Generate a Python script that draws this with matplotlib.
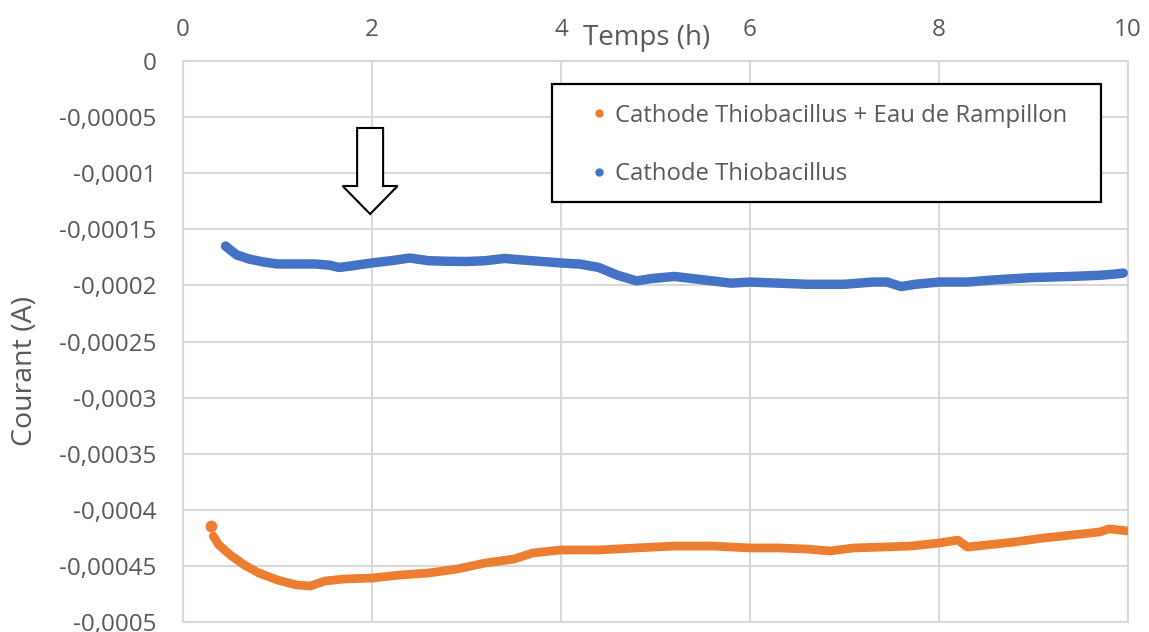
import matplotlib
matplotlib.use("Agg")
import matplotlib.pyplot as plt
from matplotlib.lines import Line2D
from matplotlib.patches import FancyArrow, Rectangle
import matplotlib.transforms as mtransforms

plt.rcParams['font.family'] = ['Open Sans', 'DejaVu Sans']

# ---- data ----
blue_t = [0.45, 0.5, 0.57, 0.7, 0.85, 1.0, 1.2, 1.4, 1.55, 1.65, 1.75, 2.0, 2.2, 2.4,
          2.6, 2.8, 3.0, 3.2, 3.4, 3.6, 3.8, 4.0, 4.2, 4.4, 4.6, 4.8, 4.95, 5.2, 5.4,
          5.6, 5.8, 6.0, 6.3, 6.6, 7.0, 7.3, 7.45, 7.6, 7.75, 8.0, 8.3, 8.6, 9.0,
          9.4, 9.7, 9.85, 9.95]
blue_i = [-0.0001649, -0.0001684, -0.0001729, -0.0001765, -0.0001791, -0.0001809,
          -0.0001809, -0.0001809, -0.000182, -0.000184, -0.000183, -0.00018,
          -0.000178, -0.0001756, -0.000178, -0.0001785, -0.0001787, -0.000178,
          -0.000176, -0.0001774, -0.0001787, -0.00018, -0.000181, -0.000184,
          -0.000191, -0.000196, -0.000194, -0.000192, -0.000194, -0.000196,
          -0.000198, -0.000197, -0.000198, -0.000199, -0.000199, -0.000197,
          -0.000197, -0.000201, -0.000199, -0.000197, -0.000197, -0.000195,
          -0.000193, -0.000192, -0.000191, -0.00019, -0.000189]

orange_t = [0.3, 0.32, 0.38, 0.5, 0.65, 0.8, 1.0, 1.2, 1.35, 1.5, 1.7, 2.0, 2.3, 2.6,
            2.9, 3.2, 3.5, 3.7, 4.0, 4.4, 4.8, 5.2, 5.6, 6.0, 6.3, 6.6, 6.85, 7.1,
            7.4, 7.7, 8.0, 8.2, 8.3, 8.5, 8.8, 9.1, 9.4, 9.7, 9.8, 10.0]
orange_i = [-0.0004145, -0.0004234, -0.0004314, -0.0004403, -0.0004492, -0.0004563,
            -0.0004626, -0.000467, -0.0004679, -0.0004635, -0.0004617, -0.0004608,
            -0.0004581, -0.0004563, -0.0004528, -0.0004474, -0.0004439, -0.0004385,
            -0.0004358, -0.0004358, -0.000434, -0.0004323, -0.0004323, -0.000434,
            -0.000434, -0.000435, -0.0004367, -0.000434, -0.0004332, -0.0004323,
            -0.0004296, -0.000427, -0.0004332, -0.0004314, -0.0004287, -0.0004252,
            -0.0004225, -0.0004198, -0.000417, -0.0004189]

x_ticks = [0, 2, 4, 6, 8, 10]
y_ticks = [0, -0.00005, -0.0001, -0.00015, -0.0002, -0.00025, -0.0003,
           -0.00035, -0.0004, -0.00045, -0.0005]
y_tick_labels = ["0", "-0,00005", "-0,0001", "-0,00015", "-0,0002", "-0,00025",
                 "-0,0003", "-0,00035", "-0,0004", "-0,00045", "-0,0005"]

label_orange = "Cathode Thiobacillus + Eau de Rampillon"
label_blue = "Cathode Thiobacillus"

ORANGE = "#ED7D31"
BLUE = "#4472C4"
TXT = "#595959"
GRID = "#D9D9D9"

W, H = 1149, 632
fig = plt.figure(figsize=(W/100, H/100), dpi=100)
L, R, T, B = 183, 1128, 61, 622
ax = fig.add_axes([L/W, 1-B/H, (R-L)/W, (B-T)/H])

def ax_x(px):
    return (px - L) / (R - L)

def ax_y(py):
    return (B - py) / (B - T)

ax.set_xlim(0, 10)
ax.set_ylim(-0.0005, 0)
ax.xaxis.tick_top()
ax.set_xticks(x_ticks)
ax.set_yticks(y_ticks)
ax.set_yticklabels(y_tick_labels)
ax.tick_params(axis='both', length=0, labelsize=17.5, labelcolor=TXT)
ax.tick_params(axis='x', pad=14)
ax.tick_params(axis='y', pad=19)
ax.grid(True, color=GRID, linewidth=1.5)
ax.set_axisbelow(True)
for s in ax.spines.values():
    s.set_color(GRID)
    s.set_linewidth(1.5)

lw = 6.8
ax.plot(blue_t, blue_i, color=BLUE, lw=lw, solid_capstyle='round',
        solid_joinstyle='round', zorder=3)
ax.plot(orange_t[1:], orange_i[1:], color=ORANGE, lw=lw - 0.5, solid_capstyle='round',
        solid_joinstyle='round', zorder=3)
ax.plot(orange_t[:1], orange_i[:1], 'o', color=ORANGE, ms=7.5, zorder=3)

# hollow arrow annotation
arrow = FancyArrow(1.98, -0.0000597, 0, -0.0000767, width=0.275, head_width=0.582,
                   head_length=0.000025, length_includes_head=True,
                   facecolor='white', edgecolor='black', linewidth=1.5, zorder=4)
ax.add_patch(arrow)

# axis titles
trans = mtransforms.blended_transform_factory(ax.transData, ax.transAxes)
ax.text(4.91, ax_y(38), "Temps (h)", transform=trans, ha='center', va='center',
        fontsize=20, color=TXT)
fig.text(25/W, 1 - 371/H, "Courant (A)", rotation=90, ha='center', va='center',
         fontsize=20.5, color=TXT)

# legend frame
ax.add_patch(Rectangle((ax_x(552), ax_y(202)), ax_x(1101) - ax_x(552),
                       ax_y(84) - ax_y(202), transform=ax.transAxes,
                       facecolor='white', edgecolor='black', linewidth=1.6,
                       zorder=5, clip_on=False))

handles = [Line2D([], [], ls='none', marker='o', ms=5, color=ORANGE),
           Line2D([], [], ls='none', marker='o', ms=5, color=BLUE)]
fs_leg = 17.2
hl = 0.6
leg = ax.legend(handles, [label_orange, label_blue], loc='center left',
                bbox_to_anchor=(ax_x(599 - hl * fs_leg * 100 / 72 / 2), ax_y(145)),
                fontsize=fs_leg, frameon=False, labelcolor=TXT,
                handlelength=hl, handletextpad=0.35, labelspacing=1.45,
                borderpad=0, borderaxespad=0)
leg.set_zorder(6)

fig.savefig("out.png", dpi=100)
